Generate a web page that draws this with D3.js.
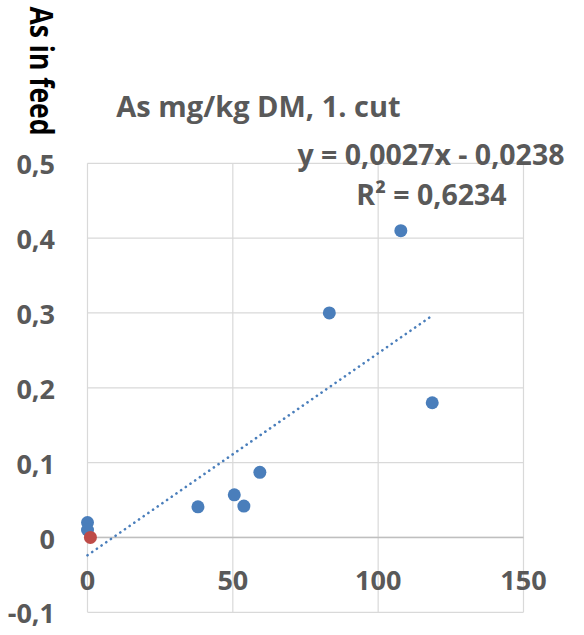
<!DOCTYPE html>
<html>
<head>
<meta charset="utf-8">
<script src="https://cdn.jsdelivr.net/npm/d3@7"></script>
<style>
  body { margin: 0; background: #fff; }
  text { font-family: "Open Sans", Lato, sans-serif; font-weight: bold; }
</style>
</head>
<body>
<div id="chart"></div>
<script>
// Data
const xValues = [0, 0, 38, 50.5, 53.8, 59.3, 83.2, 107.8, 118.6];
const yValues = [0.02, 0.01, 0.041, 0.057, 0.042, 0.087, 0.30, 0.41, 0.18];
const redX = [1];
const redY = [0];
const xTicks = [0, 50, 100, 150];
const yTicks = [-0.1, 0, 0.1, 0.2, 0.3, 0.4, 0.5];
const slope = 0.0027, intercept = -0.0238;
const title = "As mg/kg DM, 1. cut";
const yTitle = "As in feed";
const eqText = "y = 0,0027x - 0,0238";
const r2Text = "R² = 0,6234";

const W = 584, H = 635;
const margin = {top: 163.3, left: 87.5, right: W - 523.5, bottom: H - 612.3};
const width = W - margin.left - margin.right,
      height = H - margin.top - margin.bottom;

const svg = d3.select("#chart").append("svg")
  .attr("width", W).attr("height", H);
const g = svg.append("g")
  .attr("transform", `translate(${margin.left},${margin.top})`);

const x = d3.scaleLinear().domain([0, 150]).range([0, width]);
const y = d3.scaleLinear().domain([-0.1, 0.5]).range([height, 0]);
// comma decimals, plain hyphen for negatives
const fmt = d => d === 0 ? "0" : d3.format(".1f")(d).replace(".", ",").replace("\u2212", "-");

// gridlines
g.selectAll(".hgrid").data(yTicks).enter().append("line")
  .attr("x1", 0).attr("x2", width)
  .attr("y1", d => y(d)).attr("y2", d => y(d))
  .attr("stroke", "#d9d9d9").attr("stroke-width", 1.2);
g.selectAll(".vgrid").data(xTicks).enter().append("line")
  .attr("y1", 0).attr("y2", height)
  .attr("x1", d => x(d)).attr("x2", d => x(d))
  .attr("stroke", "#d9d9d9").attr("stroke-width", 1.2);

// x axis line at y = 0
g.append("line")
  .attr("x1", 0).attr("x2", width)
  .attr("y1", y(0)).attr("y2", y(0))
  .attr("stroke", "#bfbfbf").attr("stroke-width", 1.5);

// y tick labels
g.selectAll(".ylab").data(yTicks).enter().append("text")
  .attr("x", 55 - margin.left)
  .attr("y", d => y(d) + 1.5)
  .attr("dy", "0.357em")
  .attr("text-anchor", "end")
  .style("font-size", "27px")
  .style("fill", "#595959")
  .text(fmt);

// x tick labels
g.selectAll(".xlab").data(xTicks).enter().append("text")
  .attr("x", d => x(d))
  .attr("y", y(0) + 42.6)
  .attr("dy", "0.357em")
  .attr("text-anchor", "middle")
  .style("font-size", "27px")
  .style("fill", "#595959")
  .text(d => d);

// trendline
const xMax = d3.max(xValues);
g.append("line")
  .attr("x1", x(0)).attr("y1", y(intercept))
  .attr("x2", x(xMax)).attr("y2", y(slope * xMax + intercept))
  .attr("stroke", "#4a7ebb")
  .attr("stroke-width", 2.6)
  .attr("stroke-linecap", "round")
  .attr("stroke-dasharray", "0.1 5.6");

// points
g.selectAll(".pt").data(xValues).enter().append("circle")
  .attr("cx", d => x(d))
  .attr("cy", (d, i) => y(yValues[i]))
  .attr("r", 6.5)
  .attr("fill", "#4a7ebb");
g.selectAll(".rpt").data(redX).enter().append("circle")
  .attr("cx", d => x(d))
  .attr("cy", (d, i) => y(redY[i]))
  .attr("r", 6.5)
  .attr("fill", "#be4b48");

// title
svg.append("text")
  .attr("x", 258.5).attr("y", 117)
  .attr("text-anchor", "middle")
  .style("font-size", "29px")
  .style("fill", "#595959")
  .text(title);

// y axis title (rotated, a bit stretched across)
svg.append("text")
  .attr("transform", "translate(30,71) rotate(90) scale(1,1.2)")
  .attr("text-anchor", "middle")
  .style("font-size", "26.5px")
  .style("fill", "#000")
  .text(yTitle);

// equation labels
svg.append("text")
  .attr("x", 431).attr("y", 165)
  .attr("text-anchor", "middle")
  .style("font-size", "28.5px")
  .style("fill", "#595959")
  .text(eqText);
svg.append("text")
  .attr("x", 431.5).attr("y", 205)
  .attr("text-anchor", "middle")
  .style("font-size", "28.5px")
  .style("fill", "#595959")
  .text(r2Text);
</script>
</body>
</html>
